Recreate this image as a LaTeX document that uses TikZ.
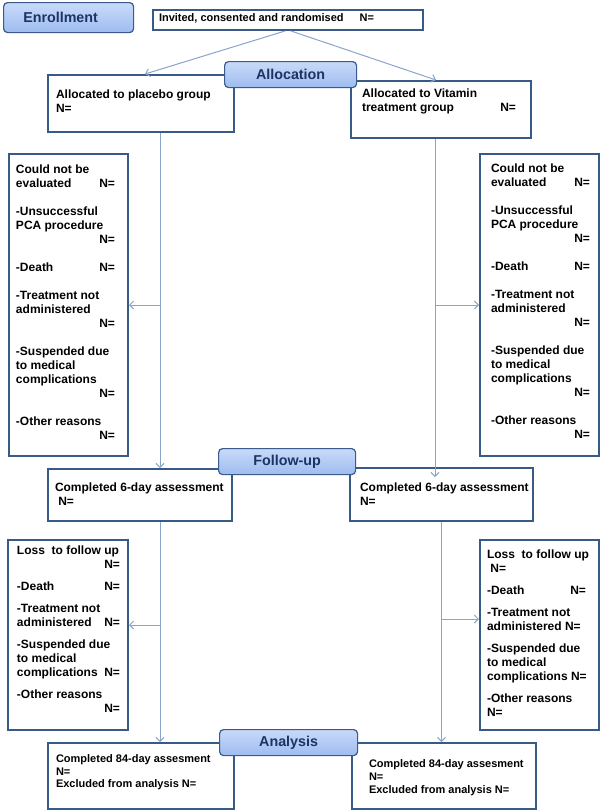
\documentclass[tikz,border=0pt]{standalone}
\usepackage{fontspec}
\setmainfont{Liberation Sans}
\usetikzlibrary{arrows.meta,calc}
\definecolor{boxborder}{RGB}{56,90,135}
\definecolor{labborder}{RGB}{60,90,140}
\definecolor{labtop}{RGB}{200,218,249}
\definecolor{labbot}{RGB}{158,188,240}
\definecolor{labtext}{RGB}{28,52,100}
\definecolor{conncol}{RGB}{138,165,204}
% width, height, left pad, right pad, top pad, content
\newcommand\boxtxt[6]{\begin{minipage}[t][#2][t]{#1}\vspace*{#5}\leftskip=#3\rightskip=#4\parindent=0pt\relax #6\par\end{minipage}}
\newcommand\rN{\null\hfill N=}
\begin{document}
\begin{tikzpicture}[x=1pt,y=-1pt,
  lab/.style={draw=labborder, line width=1.2pt, rounded corners=4pt, top color=labtop, bottom color=labbot, text=labtext, font=\fontsize{14.3}{16}\selectfont\bfseries, inner sep=0pt, anchor=north west},
  box/.style={draw=boxborder, line width=2pt, fill=white, inner sep=0pt, anchor=north west, font=\fontsize{12}{14}\selectfont\bfseries},
  smallbox/.style={box, font=\fontsize{11}{12.5}\selectfont\bfseries},
  conn/.style={draw=conncol, line width=1pt, -{Straight Barb[length=4pt,width=8pt]}}]
\useasboundingbox[fill=white] (0,0) rectangle (600,811);

% boxes
\node[smallbox] (inv) at (152,9) {\boxtxt{270pt}{20pt}{6pt}{0pt}{4pt}{Invited, consented and randomised\hspace{16pt}N=}};
\node[box] (plc) at (47,74) {\boxtxt{186pt}{57pt}{8pt}{0pt}{15pt}{Allocated to placebo group\\N=}};
\node[box] (vit) at (350,80) {\boxtxt{180pt}{57pt}{11pt}{15pt}{8pt}{Allocated to Vitamin\\treatment group\hfill N=}};

\node[box] (b1L) at (8,153) {\boxtxt{119pt}{302pt}{7pt}{13pt}{10.5pt}{Could not be\\
evaluated\hfill N=\\[14pt]
-Unsuccessful\\
PCA procedure\\
\rN\\[14pt]
-Death\hfill N=\\[14pt]
-Treatment not\\
administered\\
\rN\\[14pt]
-Suspended due\\
to medical\\
complications\\
\rN\\[14pt]
-Other reasons\\
\rN}};
\node[box] (b1R) at (479,153) {\boxtxt{119pt}{302pt}{11pt}{9pt}{9.7pt}{Could not be\\
evaluated\hfill N=\\[14pt]
-Unsuccessful\\
PCA procedure\\
\rN\\[14pt]
-Death\hfill N=\\[14pt]
-Treatment not\\
administered\\
\rN\\[14pt]
-Suspended due\\
to medical\\
complications\\
\rN\\[14pt]
-Other reasons\\
\rN}};

\node[box] (c6L) at (47,468) {\boxtxt{184pt}{52pt}{7pt}{0pt}{13.5pt}{Completed 6-day assessment\\\null\ N=}};
\node[box] (c6R) at (349,467) {\boxtxt{183pt}{53pt}{10pt}{0pt}{14.5pt}{Completed 6-day assessment\\N=}};

\node[box] (b2L) at (7,539) {\boxtxt{120pt}{190pt}{9pt}{8pt}{5.7pt}{Loss\ \ to follow up\\
\rN\\[8pt]
-Death\hfill N=\\[8pt]
-Treatment not\\
administered\hfill N=\\[8pt]
-Suspended due\\
to medical\\
complications\hfill N=\\[8pt]
-Other reasons\\
\rN}};
\node[box] (b2R) at (479,539) {\boxtxt{119pt}{190pt}{7pt}{9pt}{9.7pt}{Loss\ \ to follow up\\
\null\ N=\\[8pt]
-Death\hfill N=\hspace*{4pt}\\[8pt]
-Treatment not\\
administered N=\\[8pt]
-Suspended due\\
to medical\\
complications N=\\[8pt]
-Other reasons\\
N=}};

\node[smallbox] (fL) at (47,742) {\boxtxt{186pt}{66pt}{8pt}{0pt}{12pt}{Completed 84-day assesment\\N=\\Excluded from analysis N=}};
\node[smallbox] (fR) at (351,742) {\boxtxt{184pt}{66pt}{17pt}{0pt}{17pt}{\baselineskip=13pt Completed 84-day assesment\\N=\\Excluded from analysis N=}};

% connectors
\draw[conn] ([xshift=-3pt]inv.south) -- ([xshift=4pt]plc.north);
\draw[conn] ([xshift=3pt]inv.south) -- ([xshift=-5pt]vit.north);

\coordinate (lt) at ([xshift=19pt]plc.south);
\draw[conn] (lt) -- (lt |- c6L.north);
\draw[conn] (lt |- b1L.east) -- (b1L.east);

\coordinate (rt) at ([xshift=-6pt]vit.south);
\draw[conn, shorten >=-10pt] (rt) -- (rt |- c6R.north);
\draw[conn] (rt |- b1R.west) -- (b1R.west);

\coordinate (lb) at ([xshift=20pt]c6L.south);
\draw[conn] (lb) -- (lb |- fL.north);
\coordinate (lbe) at ([yshift=10pt]b2L.east);
\draw[conn] (lb |- lbe) -- (lbe);

\coordinate (rb) at (c6R.south);
\draw[conn] (rb) -- (rb |- fR.north);
\coordinate (rbe) at ([yshift=16pt]b2R.west);
\draw[conn] (rb |- rbe) -- (rbe);

% stage labels
\node[lab, minimum width=130pt, minimum height=30pt] (enr) at (3,2) {Enrollment\hspace*{16pt}};
\node[lab, minimum width=132pt, minimum height=26pt] (alloc) at (224,61) {Allocation};
\node[lab, minimum width=137pt, minimum height=26pt] (fup) at (218,448) {Follow-up};
\node[lab, minimum width=138pt, minimum height=26pt] (ana) at (219,729) {Analysis};
\end{tikzpicture}
\end{document}
